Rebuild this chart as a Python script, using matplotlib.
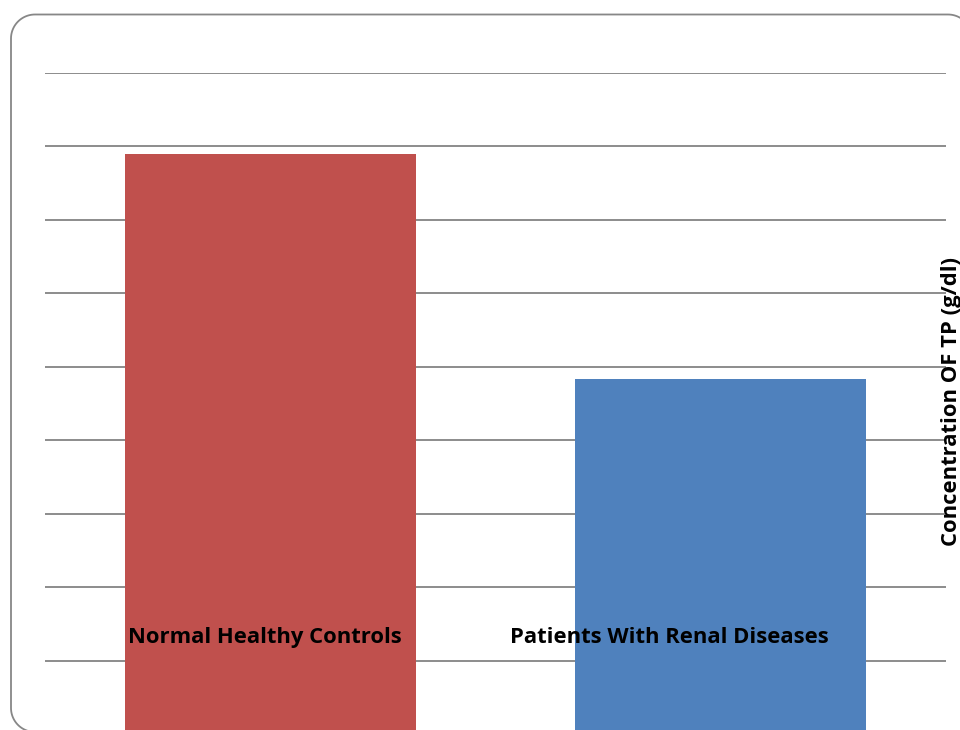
import numpy as np
import matplotlib
matplotlib.use("Agg")
import matplotlib.pyplot as plt
from matplotlib.lines import Line2D
from matplotlib.transforms import IdentityTransform

# Mean total protein concentration per group (g/dl)
groups = ["Normal Healthy Controls", "Patients With Renal Diseases"]
tp_values = [7.89, 4.83]
bar_colors = ["#C0504D", "#4F81BD"]
grid_levels = [1, 2, 3, 4, 5, 6, 7, 8, 9]
y_title = "Concentration OF TP (g/dl)"

W, H, DPI = 960, 730, 100
fig = plt.figure(figsize=(W / DPI, H / DPI), dpi=DPI)
fig.patch.set_facecolor("white")

# plot area (zero line sits just below the bottom edge of the image)
ax_left, ax_right = 45, 946
ax_top_px, ax_zero_px = 72.7, 734.2
ax = fig.add_axes([ax_left / W, (H - ax_zero_px) / H,
                   (ax_right - ax_left) / W, (ax_zero_px - ax_top_px) / H])
ax.set_xlim(-0.5, 1.5)
ax.set_ylim(0, 9)
ax.set_facecolor("none")
for s in ax.spines.values():
    s.set_visible(False)
ax.set_xticks([])
ax.set_yticks([])

for lvl in grid_levels:
    ax.axhline(lvl, color="#8C8C8C", lw=1.4, zorder=1)

ax.bar(range(len(groups)), tp_values, width=0.646, color=bar_colors, zorder=2)

# category names drawn inside the plot area
label_x = [-0.013, 0.887]
for x, name in zip(label_x, groups):
    ax.text(x, 1.31, name, ha="center", va="center", fontsize=15.8,
            fontweight="bold", family="Open Sans", color="black", zorder=3)

fig.text(952 / W, (H - 401.5) / H, y_title, rotation=90, ha="center",
         va="center", fontsize=15.8, fontweight="bold", family="Open Sans",
         color="black")

# rounded chart border (pixel coordinates, origin bottom-left);
# only the part that falls inside the canvas is traced
x0, x1, y0, y1, r = 11.0, 972.0, -2.0, 715.5, 24.0


def arc(cx, cy, a0, a1, n=24):
    t = np.radians(np.linspace(a0, a1, n))
    return cx + r * np.cos(t), cy + r * np.sin(t)


bx, by = arc(x0 + r, y0 + r, 270, 180)      # bottom-left corner
tlx, tly = arc(x0 + r, y1 - r, 180, 90)     # top-left corner
trx, try_ = arc(x1 - r, y1 - r, 90, 0)      # top-right corner
px = np.concatenate([bx, tlx, trx])
py = np.concatenate([by, tly, try_])
keep = px <= W + 2
border = Line2D(px[keep], py[keep], color="#878787", lw=1.3,
                transform=IdentityTransform(), solid_capstyle="butt")
fig.add_artist(border)

fig.savefig("out.png", dpi=DPI, facecolor="white")
